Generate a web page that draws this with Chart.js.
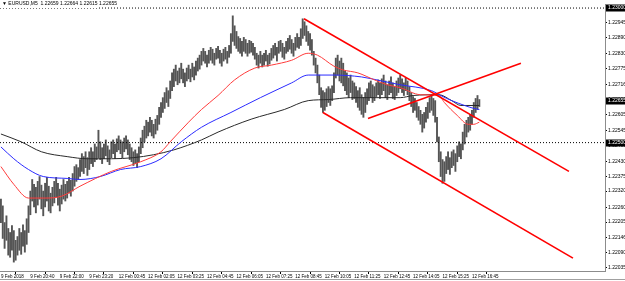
<!DOCTYPE html>
<html><head><meta charset="utf-8">
<script src="https://cdn.jsdelivr.net/npm/chart.js@4/dist/chart.umd.min.js"></script>
<style>html,body{margin:0;padding:0;background:#fff;overflow:hidden}#wrap{width:625px;height:281px;position:relative}</style>
</head><body><div id="wrap"><canvas id="c" width="625" height="281"></canvas></div>
<script>
const symbolTitle = "EURUSD,M5  1.22659 1.22664 1.22615 1.22655";

const highs = [
1.22290,1.22265,1.22203,1.22228,1.22181,1.22166,1.22192,1.22173,1.22137,1.22151,
1.22181,1.22166,1.22195,1.22173,1.22217,1.22265,1.22320,1.22363,1.22345,1.22334,
1.22356,1.22374,1.22342,1.22320,1.22349,1.22371,1.22338,1.22312,1.22334,1.22356,
1.22371,1.22349,1.22327,1.22342,1.22363,1.22345,1.22356,1.22371,1.22360,1.22385,
1.22411,1.22418,1.22407,1.22437,1.22459,1.22448,1.22466,1.22444,1.22466,1.22481,
1.22466,1.22495,1.22484,1.22546,1.22503,1.22481,1.22495,1.22510,1.22488,1.22473,
1.22503,1.22510,1.22495,1.22514,1.22525,1.22510,1.22503,1.22517,1.22525,1.22510,
1.22495,1.22481,1.22466,1.22473,1.22459,1.22484,1.22517,1.22546,1.22561,1.22583,
1.22576,1.22594,1.22583,1.22568,1.22587,1.22601,1.22631,1.22649,1.22667,1.22686,
1.22704,1.22693,1.22729,1.22759,1.22773,1.22788,1.22766,1.22777,1.22795,1.22773,
1.22759,1.22777,1.22788,1.22773,1.22795,1.22781,1.22803,1.22814,1.22825,1.22839,
1.22850,1.22839,1.22825,1.22843,1.22854,1.22847,1.22832,1.22850,1.22858,1.22843,
1.22832,1.22847,1.22854,1.22839,1.22861,1.22905,1.22971,1.22934,1.22913,1.22894,
1.22887,1.22876,1.22891,1.22883,1.22869,1.22880,1.22876,1.22869,1.22854,1.22832,
1.22825,1.22839,1.22825,1.22832,1.22843,1.22825,1.22832,1.22850,1.22861,1.22869,
1.22854,1.22876,1.22880,1.22869,1.22854,1.22876,1.22887,1.22898,1.22883,1.22869,
1.22891,1.22905,1.22891,1.22923,1.22960,1.22949,1.22934,1.22913,1.22905,1.22883,
1.22839,1.22814,1.22788,1.22751,1.22704,1.22693,1.22686,1.22700,1.22708,1.22700,
1.22711,1.22759,1.22814,1.22825,1.22803,1.22814,1.22795,1.22766,1.22759,1.22740,
1.22751,1.22729,1.22722,1.22708,1.22693,1.22704,1.22678,1.22667,1.22686,1.22700,
1.22722,1.22729,1.22715,1.22708,1.22722,1.22733,1.22722,1.22737,1.22751,1.22729,
1.22715,1.22729,1.22744,1.22722,1.22708,1.22729,1.22740,1.22751,1.22737,1.22722,
1.22740,1.22729,1.22708,1.22686,1.22671,1.22664,1.22649,1.22634,1.22620,1.22605,
1.22612,1.22631,1.22649,1.22667,1.22678,1.22664,1.22656,1.22594,1.22521,1.22466,
1.22437,1.22429,1.22448,1.22466,1.22444,1.22466,1.22473,1.22459,1.22488,1.22503,
1.22495,1.22539,1.22568,1.22583,1.22594,1.22605,1.22620,1.22649,1.22664,1.22675,1.22660
];
const lows = [
1.22203,1.22144,1.22107,1.22137,1.22082,1.22074,1.22100,1.22056,1.22063,1.22082,
1.22100,1.22085,1.22115,1.22093,1.22122,1.22166,1.22232,1.22283,1.22261,1.22239,
1.22268,1.22290,1.22254,1.22228,1.22261,1.22283,1.22246,1.22239,1.22265,1.22276,
1.22298,1.22268,1.22246,1.22272,1.22290,1.22283,1.22294,1.22312,1.22301,1.22320,
1.22338,1.22356,1.22363,1.22374,1.22393,1.22385,1.22407,1.22378,1.22400,1.22422,
1.22411,1.22429,1.22437,1.22444,1.22437,1.22422,1.22440,1.22451,1.22429,1.22418,
1.22444,1.22459,1.22440,1.22466,1.22473,1.22459,1.22444,1.22466,1.22477,1.22455,
1.22437,1.22429,1.22415,1.22422,1.22407,1.22429,1.22459,1.22481,1.22503,1.22517,
1.22525,1.22539,1.22525,1.22517,1.22532,1.22546,1.22568,1.22594,1.22612,1.22627,
1.22649,1.22634,1.22664,1.22693,1.22708,1.22729,1.22715,1.22722,1.22737,1.22722,
1.22708,1.22729,1.22737,1.22726,1.22744,1.22733,1.22751,1.22766,1.22773,1.22788,
1.22803,1.22795,1.22781,1.22795,1.22806,1.22795,1.22788,1.22810,1.22814,1.22795,
1.22784,1.22803,1.22810,1.22795,1.22817,1.22832,1.22876,1.22861,1.22850,1.22839,
1.22832,1.22821,1.22839,1.22832,1.22821,1.22832,1.22836,1.22825,1.22810,1.22788,
1.22777,1.22795,1.22781,1.22788,1.22803,1.22784,1.22792,1.22806,1.22814,1.22825,
1.22803,1.22832,1.22839,1.22817,1.22810,1.22832,1.22839,1.22847,1.22832,1.22821,
1.22843,1.22854,1.22850,1.22861,1.22887,1.22898,1.22876,1.22861,1.22843,1.22825,
1.22788,1.22759,1.22722,1.22678,1.22631,1.22612,1.22620,1.22634,1.22649,1.22638,
1.22656,1.22686,1.22740,1.22751,1.22729,1.22722,1.22711,1.22693,1.22678,1.22667,
1.22686,1.22660,1.22664,1.22649,1.22631,1.22620,1.22605,1.22594,1.22612,1.22642,
1.22656,1.22667,1.22649,1.22656,1.22671,1.22678,1.22664,1.22678,1.22693,1.22667,
1.22660,1.22678,1.22686,1.22664,1.22660,1.22675,1.22686,1.22700,1.22686,1.22675,
1.22693,1.22678,1.22656,1.22634,1.22612,1.22620,1.22594,1.22583,1.22568,1.22539,
1.22554,1.22576,1.22590,1.22612,1.22620,1.22601,1.22576,1.22503,1.22429,1.22374,
1.22349,1.22356,1.22385,1.22400,1.22382,1.22407,1.22415,1.22393,1.22429,1.22448,
1.22440,1.22473,1.22495,1.22521,1.22539,1.22546,1.22568,1.22594,1.22612,1.22623,1.22634
];

const timeLabelBars = [0,16,32,48,64,80,96,112,128,144,160,176,192,208,224,240,256];
const timeLabels = ["9 Feb 2018","9 Feb 20:40","9 Feb 22:00","9 Feb 23:20","12 Feb 00:45","12 Feb 02:05","12 Feb 03:25","12 Feb 04:45","12 Feb 06:05","12 Feb 07:25","12 Feb 08:45","12 Feb 10:05","12 Feb 11:25","12 Feb 12:45","12 Feb 14:05","12 Feb 15:25","12 Feb 16:45"];

const priceTicks = [1.22945,1.22890,1.22830,1.22775,1.22716,1.22660,1.22605,1.22545,1.22490,1.22430,1.22375,1.22320,1.22260,1.22205,1.22146,1.22090,1.22035];
const priceTickLabels = ["1.22945","1.22890","1.22830","1.22775","1.22716","1.22660","1.22605","1.22545","1.22490","1.22430","1.22375","1.22320","1.22260","1.22205","1.22146","1.22090","1.22035"];

const levelLines = [1.23000, 1.22500];
const levelLabels = ["1.23000", "1.22500"];
const lastPrice = 1.22655;
const lastPriceLabel = "1.22655";

const maFastBars   = [0,7,15,24,33,43,60,76,87,92,102,109,118,127,138,147,158,167,172,181,186,194,203,210,217,228,238,241,248,254,257,260];
const maFastValues = [1.22411,1.22345,1.22294,1.22294,1.22301,1.22338,1.22393,1.22429,1.22466,1.22503,1.22576,1.22623,1.22675,1.22733,1.22777,1.22788,1.22806,1.22832,1.22825,1.22784,1.22770,1.22759,1.22733,1.22715,1.22704,1.22678,1.22675,1.22649,1.22601,1.22568,1.22568,1.22576];
const maMidBars    = [0,7,15,23,36,43,54,65,76,87,98,109,125,141,158,167,181,196,207,217,234,239,245,252,257,260];
const maMidValues  = [1.22484,1.22440,1.22400,1.22374,1.22367,1.22363,1.22374,1.22400,1.22411,1.22440,1.22503,1.22557,1.22612,1.22667,1.22722,1.22751,1.22751,1.22744,1.22729,1.22715,1.22693,1.22675,1.22656,1.22638,1.22627,1.22623];
const maSlowBars   = [0,11,22,36,47,60,72,83,94,109,118,136,154,167,178,190,203,217,224,238,245,250,260];
const maSlowValues = [1.22532,1.22503,1.22466,1.22448,1.22440,1.22440,1.22444,1.22455,1.22473,1.22510,1.22539,1.22587,1.22623,1.22656,1.22660,1.22667,1.22667,1.22667,1.22675,1.22678,1.22656,1.22638,1.22638];

const channelTopBars = [164.7, 308.7];   const channelTopPrices = [1.22960, 1.22393];
const channelBotBars = [175.0, 310.9];   const channelBotPrices = [1.22612, 1.22071];
const risingLineBars = [199.5, 282.6];   const risingLinePrices = [1.22590, 1.22795];

const X_MIN = -0.5, X_MAX = 328.3, Y_MIN = 1.22023, Y_MAX = 1.23015;
const FONT = 'Liberation Sans';

const pts = (xs, ys) => xs.map((x, k) => ({x: x, y: ys[k]}));
const lineDs = (data, color, width, order, extra) => Object.assign({
  type: 'line', data, borderColor: color, borderWidth: width, pointRadius: 0,
  fill: false, order
}, extra || {});

const datasets = [
  {type: 'bar', data: highs.map((h, i) => ({x: i, y: [lows[i], h]})),
   backgroundColor: '#555555', barThickness: 1.25, grouped: false, order: 6},
  ...levelLines.map(v => lineDs([{x: X_MIN, y: v}, {x: X_MAX, y: v}], '#000', 1, 5, {borderDash: [1, 2]})),
  lineDs(pts(maSlowBars, maSlowValues), '#2a2a2a', 1, 4, {cubicInterpolationMode: 'monotone'}),
  lineDs(pts(maMidBars, maMidValues), '#2b2bff', 1, 3, {cubicInterpolationMode: 'monotone'}),
  lineDs(pts(maFastBars, maFastValues), '#ff3b3b', 1, 2, {cubicInterpolationMode: 'monotone'}),
  lineDs(pts(channelTopBars, channelTopPrices), '#ff0000', 1.6, 1),
  lineDs(pts(channelBotBars, channelBotPrices), '#ff0000', 1.6, 1),
  lineDs(pts(risingLineBars, risingLinePrices), '#ff0000', 1.6, 1)
];

const overlay = {
  id: 'overlay',
  afterDraw(chart) {
    const ctx = chart.ctx, y = chart.scales.y;
    ctx.save();
    ctx.font = '5px "' + FONT + '"';
    ctx.textBaseline = 'middle';
    ctx.fillStyle = '#fff';
    ctx.fillRect(0, 0, 99, 8);
    ctx.fillStyle = '#000';
    ctx.textAlign = 'left';
    ctx.fillText('\u25BC ' + symbolTitle, 2, 4);
    const boxes = levelLines.map((v, k) => [v, levelLabels[k]]).concat([[lastPrice, lastPriceLabel]]);
    boxes.forEach(([v, t]) => {
      const py = Math.round(y.getPixelForValue(v));
      ctx.fillStyle = '#000';
      ctx.fillRect(606, py - 3.5, 19, 7);
      ctx.fillStyle = '#fff';
      ctx.fillText(t, 608, py);
    });
    ctx.fillStyle = '#a0a0a0';
    ctx.fillRect(0, 279, 625, 1);
    ctx.restore();
  }
};

new Chart(document.getElementById('c'), {
  type: 'bar',
  data: {datasets},
  options: {
    responsive: false, animation: false, devicePixelRatio: 1,
    layout: {padding: 0},
    plugins: {legend: {display: false}, tooltip: {enabled: false}},
    scales: {
      x: {
        type: 'linear', min: X_MIN, max: X_MAX, offset: false,
        afterFit: s => { s.height = 10; },
        afterBuildTicks: s => { s.ticks = timeLabelBars.map(v => ({value: v})); },
        grid: {drawOnChartArea: false, tickLength: 3, color: '#000'},
        border: {display: true, color: '#8c8c8c'},
        ticks: {autoSkip: false, maxRotation: 0, align: 'start', padding: 0,
          font: {family: FONT, size: 4.5}, color: '#000',
          callback: (v, i) => timeLabels[i]}
      },
      y: {
        type: 'linear', position: 'right', min: Y_MIN, max: Y_MAX,
        afterFit: s => { s.width = 20; },
        afterBuildTicks: s => { s.ticks = priceTicks.map(v => ({value: v})); },
        grid: {drawOnChartArea: false, tickLength: 2, color: '#000'},
        border: {display: true, color: '#8c8c8c'},
        ticks: {autoSkip: false, padding: 1, font: {family: FONT, size: 5}, color: '#000',
          callback: (v, i) => priceTickLabels[i]}
      }
    }
  },
  plugins: [overlay]
});
</script>
</body></html>
